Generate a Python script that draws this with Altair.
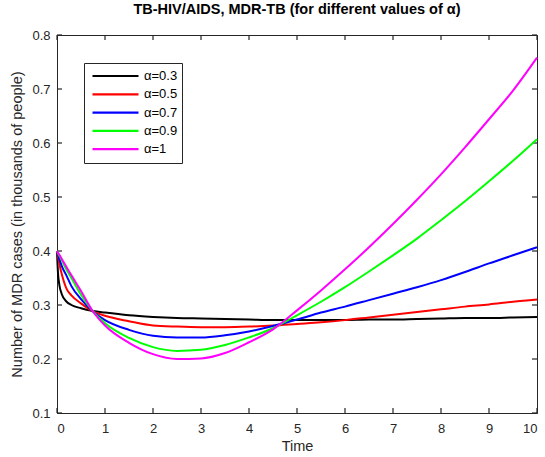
import altair as alt
import pandas as pd

# ---- data ----
time = [0, 0.02, 0.05, 0.1, 0.2, 0.3, 0.5, 0.75, 1, 1.5, 2, 2.5, 3, 3.5,
        4, 4.5, 5, 5.5, 6, 6.5, 7, 7.5, 8, 8.5, 9, 9.5, 10]

alpha_labels = ["α=0.3", "α=0.5", "α=0.7", "α=0.9", "α=1"]
colors = ["#000000", "#ff0000", "#0000ff", "#00ff00", "#ff00ff"]

y_a03 = [0.400, 0.360, 0.337, 0.320, 0.306, 0.300, 0.294, 0.289, 0.286, 0.281,
         0.278, 0.276, 0.275, 0.274, 0.273, 0.272, 0.272, 0.272, 0.272, 0.273,
         0.273, 0.274, 0.275, 0.276, 0.276, 0.277, 0.278]
y_a05 = [0.400, 0.390, 0.376, 0.357, 0.330, 0.318, 0.303, 0.288, 0.280, 0.270,
         0.262, 0.260, 0.259, 0.259, 0.260, 0.262, 0.265, 0.268, 0.272, 0.277,
         0.282, 0.287, 0.292, 0.297, 0.301, 0.306, 0.310]
y_a07 = [0.400, 0.394, 0.385, 0.372, 0.354, 0.335, 0.311, 0.288, 0.272, 0.254,
         0.243, 0.240, 0.240, 0.244, 0.251, 0.261, 0.273, 0.286, 0.297, 0.309,
         0.321, 0.333, 0.346, 0.361, 0.377, 0.392, 0.407]
y_a09 = [0.400, 0.396, 0.391, 0.383, 0.365, 0.350, 0.319, 0.288, 0.266, 0.239,
         0.222, 0.215, 0.217, 0.226, 0.240, 0.257, 0.281, 0.306, 0.333, 0.362,
         0.392, 0.423, 0.457, 0.492, 0.529, 0.567, 0.607]
y_a10 = [0.400, 0.397, 0.393, 0.385, 0.370, 0.355, 0.326, 0.288, 0.262, 0.230,
         0.209, 0.200, 0.201, 0.211, 0.231, 0.255, 0.290, 0.327, 0.366, 0.407,
         0.450, 0.495, 0.542, 0.592, 0.644, 0.697, 0.758]

x_ticks = [0, 1, 2, 3, 4, 5, 6, 7, 8, 9, 10]
y_ticks = [0.1, 0.2, 0.3, 0.4, 0.5, 0.6, 0.7, 0.8]

series = [y_a03, y_a05, y_a07, y_a09, y_a10]
rows = []
for k, (lab, ys) in enumerate(zip(alpha_labels, series)):
    for t, v in zip(time, ys):
        rows.append({"Time": t, "value": v, "series": lab, "k": k})
df = pd.DataFrame(rows)

W, H = 480, 378
TL = 5  # tick length (px), ticks drawn inward like MATLAB
AX = "#262626"
FONT = "Liberation Sans"

xscale = alt.Scale(domain=[0, 10], nice=False)
yscale = alt.Scale(domain=[0.1, 0.8], nice=False, zero=False)

xaxis = alt.Axis(values=x_ticks, title="Time", format="d",
                 grid=False, ticks=False, labelPadding=9, titlePadding=4,
                 domainColor=AX, labelColor=AX, titleColor=AX,
                 labelFont=FONT, labelFontSize=13,
                 titleFont=FONT, titleFontSize=14.5, titleFontWeight="normal")
yaxis = alt.Axis(values=y_ticks, format=".1f",
                 title="Number of MDR cases (in thousands of people)",
                 grid=False, ticks=False, labelPadding=7, titlePadding=7,
                 domainColor=AX, labelColor=AX, titleColor=AX,
                 labelFont=FONT, labelFontSize=13,
                 titleFont=FONT, titleFontSize=14.5, titleFontWeight="normal")

lines = alt.Chart(df).mark_line(strokeWidth=2, interpolate="monotone").encode(
    x=alt.X("Time:Q", scale=xscale, axis=xaxis),
    y=alt.Y("value:Q", scale=yscale, axis=yaxis),
    color=alt.Color("series:N",
                    scale=alt.Scale(domain=alpha_labels, range=colors),
                    legend=alt.Legend(title=None, orient="none",
                                      legendX=27, legendY=28,
                                      symbolType="stroke", symbolSize=2116,
                                      symbolStrokeWidth=2.2,
                                      clipHeight=18, rowPadding=0.3,
                                      padding=4, symbolOffset=3,
                                      labelOffset=4,
                                      labelFont=FONT, labelFontSize=13,
                                      labelColor="#000000",
                                      strokeColor=AX, fillColor="#ffffff")),
    order=alt.Order("Time:Q"),
)

xt = pd.DataFrame({"Time": x_ticks})
yt = pd.DataFrame({"value": y_ticks})

TW = 1.2
xticks_bottom = alt.Chart(xt).mark_rule(color=AX, strokeWidth=TW).encode(
    x=alt.X("Time:Q", scale=xscale, axis=xaxis),
    y=alt.value(H), y2=alt.value(H - TL))
xticks_top = alt.Chart(xt).mark_rule(color=AX, strokeWidth=TW).encode(
    x=alt.X("Time:Q", scale=xscale, axis=xaxis),
    y=alt.value(0), y2=alt.value(TL))
yticks_left = alt.Chart(yt).mark_rule(color=AX, strokeWidth=TW).encode(
    y=alt.Y("value:Q", scale=yscale, axis=yaxis),
    x=alt.value(0), x2=alt.value(TL))
yticks_right = alt.Chart(yt).mark_rule(color=AX, strokeWidth=TW).encode(
    y=alt.Y("value:Q", scale=yscale, axis=yaxis),
    x=alt.value(W), x2=alt.value(W - TL))

chart = alt.layer(
    xticks_bottom, xticks_top, yticks_left, yticks_right, lines
).properties(
    width=W, height=H,
    title=alt.TitleParams("TB-HIV/AIDS, MDR-TB (for different values of α)",
                          font=FONT, fontSize=14.5, fontWeight="bold",
                          color="#000000", anchor="middle", offset=12),
    padding={"left": 57, "top": 35, "right": 8, "bottom": 44},
    autosize="none",
).configure_view(stroke=AX, strokeWidth=1)

chart.save("out.html", embed_options={"renderer": "svg", "actions": False})
